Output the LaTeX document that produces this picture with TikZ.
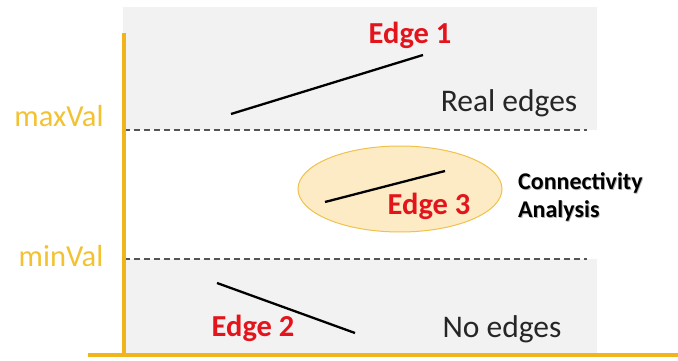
\documentclass[tikz,border=0pt]{standalone}
\usepackage{fontspec}
\setmainfont{Carlito}
\usetikzlibrary{shapes.geometric}
\definecolor{gold}{HTML}{F0B41C}
\definecolor{goldtxt}{HTML}{F2C233}
\definecolor{bandgray}{HTML}{F2F2F2}
\definecolor{edgered}{HTML}{E3141B}
\definecolor{ellfill}{HTML}{FCEBC4}
\definecolor{elldraw}{HTML}{F0C24A}
\definecolor{dashgray}{HTML}{555555}
\begin{document}
\begin{tikzpicture}[x=1pt,y=-1pt,
  band/.style={fill=bandgray,draw=none},
  axisline/.style={draw=gold,line width=3.5pt},
  thresh/.style={draw=dashgray,line width=1.2pt,dash pattern=on 6pt off 4pt},
  edgeline/.style={draw=black,line width=2.3pt},
  redlbl/.style={text=edgered,font=\fontsize{30.5}{31}\selectfont\bfseries,inner sep=0pt},
  goldlbl/.style={text=goldtxt,font=\fontsize{30.5}{31}\selectfont,inner sep=0pt},
  bandlbl/.style={text=black!85,font=\fontsize{31.5}{32}\selectfont,inner sep=0pt},
  conlbl/.style={text=black,font=\fontsize{24}{28}\selectfont\bfseries,inner sep=0pt,align=left,anchor=west}
]
\useasboundingbox (0,0) rectangle (678,361);
% bands
\fill[band] (123,7) rectangle (597,130);
\fill[band] (123,259) rectangle (597,353);
% thresholds
\coordinate (maxL) at (124,130);
\coordinate (maxR) at (587,130);
\coordinate (minL) at (124,259);
\coordinate (minR) at (587,259);
\draw[thresh] (maxL) -- (maxR);
\draw[thresh] (minL) -- (minR);
% axes
\coordinate (ytop) at (124,33);
\coordinate (origin) at (124,355);
\coordinate (xleft) at (88,355);
\coordinate (xright) at (678,355);
\draw[axisline] (ytop) -- (origin);
\draw[axisline] (xleft) -- (xright);
% axis labels
\node[goldlbl] (maxval) at (59,116) {maxVal};
\node[goldlbl] (minval) at (61,256) {minVal};
% ellipse
\node[ellipse,draw=elldraw,fill=ellfill,line width=1pt,minimum width=204pt,minimum height=86pt,inner sep=0pt] (ell) at (400,189) {};
% edges
\coordinate (e1a) at (231,114);
\coordinate (e1b) at (423,55);
\draw[edgeline] (e1a) -- (e1b);
\coordinate (e2a) at (217,283);
\coordinate (e2b) at (355,333);
\draw[edgeline] (e2a) -- (e2b);
\coordinate (e3a) at (325,202);
\coordinate (e3b) at (445,171);
\draw[edgeline] (e3a) -- (e3b);
% labels
\node[redlbl] (l1) at (410,35) {Edge 1};
\node[redlbl] (l2) at (253,328) {Edge 2};
\node[redlbl] (l3) at (429,206) {Edge 3};
\node[bandlbl] (real) at (509,103) {Real edges};
\node[bandlbl] (none) at (502,329) {No edges};
\node[conlbl,text=black!30] at (518.8,197.8) {Connectivity\\Analysis};
\node[conlbl] (conn) at (518,197) {Connectivity\\Analysis};
\end{tikzpicture}
\end{document}
